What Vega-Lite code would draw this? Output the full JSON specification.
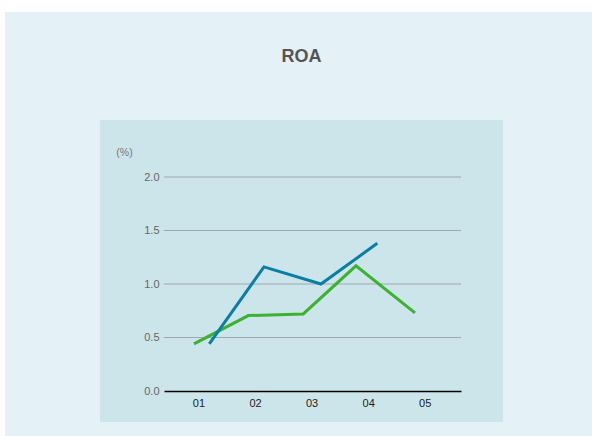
{
  "$schema": "https://vega.github.io/schema/vega-lite/v6.json",
  "autosize": "none",
  "width": 297,
  "height": 214,
  "padding": {"left": 164, "top": 177, "right": 131, "bottom": 45},
  "background": "#ffffff",
  "config": {
    "view": {"stroke": null},
    "font": "Liberation Sans"
  },
  "title": {
    "text": "ROA",
    "anchor": "middle",
    "frame": "group",
    "fontSize": 18,
    "fontWeight": "bold",
    "color": "#555555",
    "font": "Liberation Sans",
    "dx": -11,
    "offset": 0,
    "dy": 54
  },
  "datasets": {
    "roa": [
      {"series": "A", "period": 0.92, "value": 0.44},
      {"series": "A", "period": 1.881, "value": 0.705},
      {"series": "A", "period": 2.853, "value": 0.72},
      {"series": "A", "period": 3.785, "value": 1.17},
      {"series": "A", "period": 4.828, "value": 0.73},
      {"series": "B", "period": 1.191, "value": 0.44},
      {"series": "B", "period": 2.158, "value": 1.16},
      {"series": "B", "period": 3.166, "value": 1.0},
      {"series": "B", "period": 4.162, "value": 1.38}
    ],
    "grid": [
      {"level": 0.5}, {"level": 1.0}, {"level": 1.5}, {"level": 2.0}
    ],
    "panel": [
      {}
    ]
  },
  "layer": [
    {
      "data": {"name": "panel"},
      "mark": {"type": "rect", "color": "#e4f1f6"},
      "encoding": {
        "x": {"datum": -2.422, "type": "quantitative", "scale": {"domain": [0.39, 5.642], "nice": false, "zero": false}},
        "x2": {"datum": 7.958},
        "y": {"datum": 3.542, "type": "quantitative", "scale": {"domain": [0, 2], "nice": false}},
        "y2": {"datum": -0.421}
      }
    },
    {
      "data": {"name": "panel"},
      "mark": {"type": "rect", "color": "#cce5ea"},
      "encoding": {
        "x": {"datum": -0.742, "type": "quantitative"},
        "x2": {"datum": 6.385},
        "y": {"datum": 2.533, "type": "quantitative"},
        "y2": {"datum": -0.29}
      }
    },
    {
      "data": {"name": "grid"},
      "mark": {"type": "rule", "color": "#9fa8ab", "strokeWidth": 1},
      "encoding": {
        "y": {"field": "level", "type": "quantitative"}
      }
    },
    {
      "data": {"name": "roa"},
      "mark": {"type": "line", "strokeWidth": 3, "strokeJoin": "miter"},
      "encoding": {
        "x": {
          "field": "period",
          "type": "quantitative",
          "axis": {
            "values": [1, 2, 3, 4, 5],
            "labelExpr": "'0' + datum.value",
            "title": null,
            "grid": false,
            "ticks": false,
            "domainColor": "#000000",
            "domainWidth": 1.5,
            "labelColor": "#222222",
            "labelFontSize": 11,
            "labelPadding": 6,
            "zindex": 1
          }
        },
        "y": {
          "field": "value",
          "type": "quantitative",
          "axis": {
            "values": [0, 0.5, 1, 1.5, 2],
            "format": ".1f",
            "grid": false,
            "ticks": false,
            "domain": false,
            "labelColor": "#666666",
            "labelFontSize": 11,
            "labelPadding": 5,
            "title": "(%)",
            "titleAngle": 0,
            "titleX": -40,
            "titleY": -25,
            "titleAlign": "center",
            "titleBaseline": "middle",
            "titleFont": "Liberation Sans",
            "titleFontSize": 10.5,
            "titleFontWeight": "normal",
            "titleColor": "#777777",
            "zindex": 1
          }
        },
        "color": {
          "field": "series",
          "type": "nominal",
          "scale": {"domain": ["A", "B"], "range": ["#3cb233", "#0b7ea6"]},
          "legend": null
        }
      }
    }
  ]
}
